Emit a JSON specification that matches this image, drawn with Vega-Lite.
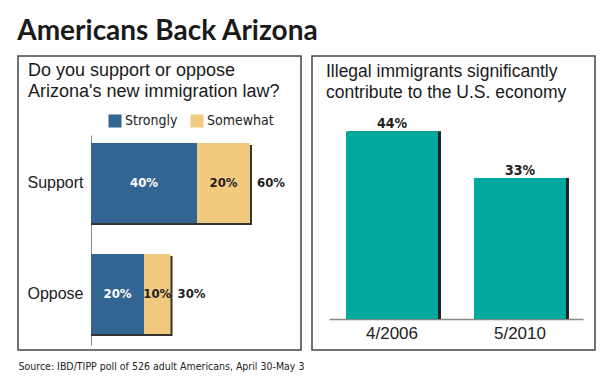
{
  "$schema": "https://vega.github.io/schema/vega-lite/v6.json",
  "background": "white",
  "padding": {"left": 17, "top": 18, "right": 10, "bottom": 5},
  "title": {"text": "Americans Back Arizona", "anchor": "start", "offset": 9, "font": "Lato", "fontSize": 28, "fontWeight": "bold", "color": "#1a1a1a"},
  "config": {
    "view": {"stroke": "#444", "strokeWidth": 1.5},
    "axis": {"grid": false}
  },
  "spacing": 11,
  "bounds": "flush",
  "hconcat": [
    {
      "width": 283,
      "height": 294,
      "title": {"text": ["Do you support or oppose", "Arizona's new immigration law?"], "anchor": "start", "offset": -45, "dx": 10, "font": "Liberation Sans", "fontSize": 18, "fontWeight": "normal", "lineHeight": 21, "color": "#1a1a1a"},
      "data": {"values": [
        {"cat": "Support", "type": "Strongly", "value": 0.40},
        {"cat": "Support", "type": "Somewhat", "value": 0.20},
        {"cat": "Oppose", "type": "Strongly", "value": 0.20},
        {"cat": "Oppose", "type": "Somewhat", "value": 0.10}
      ]},
      "encoding": {
        "y": {"field": "cat", "type": "nominal", "sort": ["Support", "Oppose"],
          "scale": {"range": [79, 289], "paddingInner": 0.28, "paddingOuter": 0.0856, "align": 0.42},
          "axis": {"orient": "left", "offset": -73, "domain": true, "domainColor": "#888", "domainWidth": 1, "ticks": false, "labelPadding": 8, "labelFont": "Liberation Sans", "labelFontSize": 16, "labelColor": "#222", "title": null}}
      },
      "layer": [
        {
          "mark": {"type": "bar", "color": "#333", "xOffset": 2, "yOffset": 2},
          "encoding": {
            "x": {"aggregate": "sum", "field": "value", "type": "quantitative",
              "scale": {"domain": [-0.2755, 0.7925], "nice": false, "zero": false},
              "axis": {"orient": "bottom", "labels": false, "ticks": false, "domain": false, "title": "Source: IBD/TIPP poll of 526 adult Americans, April 30-May 3", "titleAnchor": "start", "titleAlign": "left", "titleX": 0, "titleY": 19, "titleBaseline": "alphabetic", "titleFont": "DejaVu Sans Condensed, Roboto, sans-serif", "titleFontSize": 10.5, "titleFontWeight": "normal", "titleColor": "#222"}}
          }
        },
        {
          "mark": {"type": "bar"},
          "encoding": {
            "x": {"field": "value", "type": "quantitative", "stack": "zero"},
            "color": {"field": "type", "type": "nominal",
              "scale": {"domain": ["Strongly", "Somewhat"], "range": ["#336592", "#f2ca7f"]},
              "legend": {"orient": "none", "legendX": 90, "legendY": 58, "direction": "horizontal", "title": null, "symbolType": "square", "symbolSize": 170, "symbolStrokeWidth": 0, "labelFont": "DejaVu Sans Condensed, Roboto, sans-serif", "labelFontSize": 14, "labelColor": "#222", "columnPadding": 12, "labelOffset": 3}},
            "order": {"field": "type", "sort": "descending"}
          }
        },
        {
          "mark": {"type": "text", "font": "DejaVu Sans Condensed, Roboto, sans-serif", "fontSize": 13, "fontWeight": "bold"},
          "encoding": {
            "x": {"field": "value", "type": "quantitative", "stack": "zero", "bandPosition": 0.5},
            "detail": {"field": "type", "type": "nominal"},
            "order": {"field": "type", "sort": "descending"},
            "text": {"field": "value", "type": "quantitative", "format": ".0%"},
            "color": {"condition": {"test": "datum.type === 'Strongly'", "value": "white"}, "value": "#222"}
          }
        },
        {
          "mark": {"type": "text", "font": "DejaVu Sans Condensed, Roboto, sans-serif", "fontSize": 13, "fontWeight": "bold", "align": "left", "dx": 7, "color": "#222"},
          "encoding": {
            "x": {"aggregate": "sum", "field": "value", "type": "quantitative"},
            "text": {"aggregate": "sum", "field": "value", "type": "quantitative", "format": ".0%"}
          }
        }
      ]
    },
    {
      "width": 283,
      "height": 294,
      "title": {"text": ["Illegal immigrants significantly", "contribute to the U.S. economy"], "anchor": "start", "offset": -45, "dx": 14, "font": "Liberation Sans", "fontSize": 17.5, "fontWeight": "normal", "lineHeight": 21, "color": "#1a1a1a"},
      "data": {"values": [
        {"date": "4/2006", "value": 0.44},
        {"date": "5/2010", "value": 0.33}
      ]},
      "encoding": {
        "x": {"field": "date", "type": "nominal", "sort": ["4/2006", "5/2010"],
          "scale": {"range": [17, 271], "paddingInner": 0.281, "paddingOuter": 0.133, "align": 0.5},
          "axis": {"orient": "bottom", "offset": -31, "domain": true, "domainColor": "#888", "domainWidth": 1.5, "ticks": false, "labelPadding": 6, "labelAngle": 0, "labelFont": "Liberation Sans", "labelFontSize": 17, "labelColor": "#222", "title": null}},
        "y": {"field": "value", "type": "quantitative",
          "scale": {"domain": [-0.0726, 0.616], "nice": false, "zero": false},
          "axis": null}
      },
      "layer": [
        {
          "mark": {"type": "bar", "color": "#222", "xOffset": 3}
        },
        {
          "mark": {"type": "bar", "color": "#00a99d"}
        },
        {
          "mark": {"type": "text", "font": "DejaVu Sans Condensed, Roboto, sans-serif", "fontSize": 14, "fontWeight": "bold", "baseline": "alphabetic", "dy": -3, "color": "#222"},
          "encoding": {
            "text": {"field": "value", "type": "quantitative", "format": ".0%"}
          }
        }
      ]
    }
  ]
}
